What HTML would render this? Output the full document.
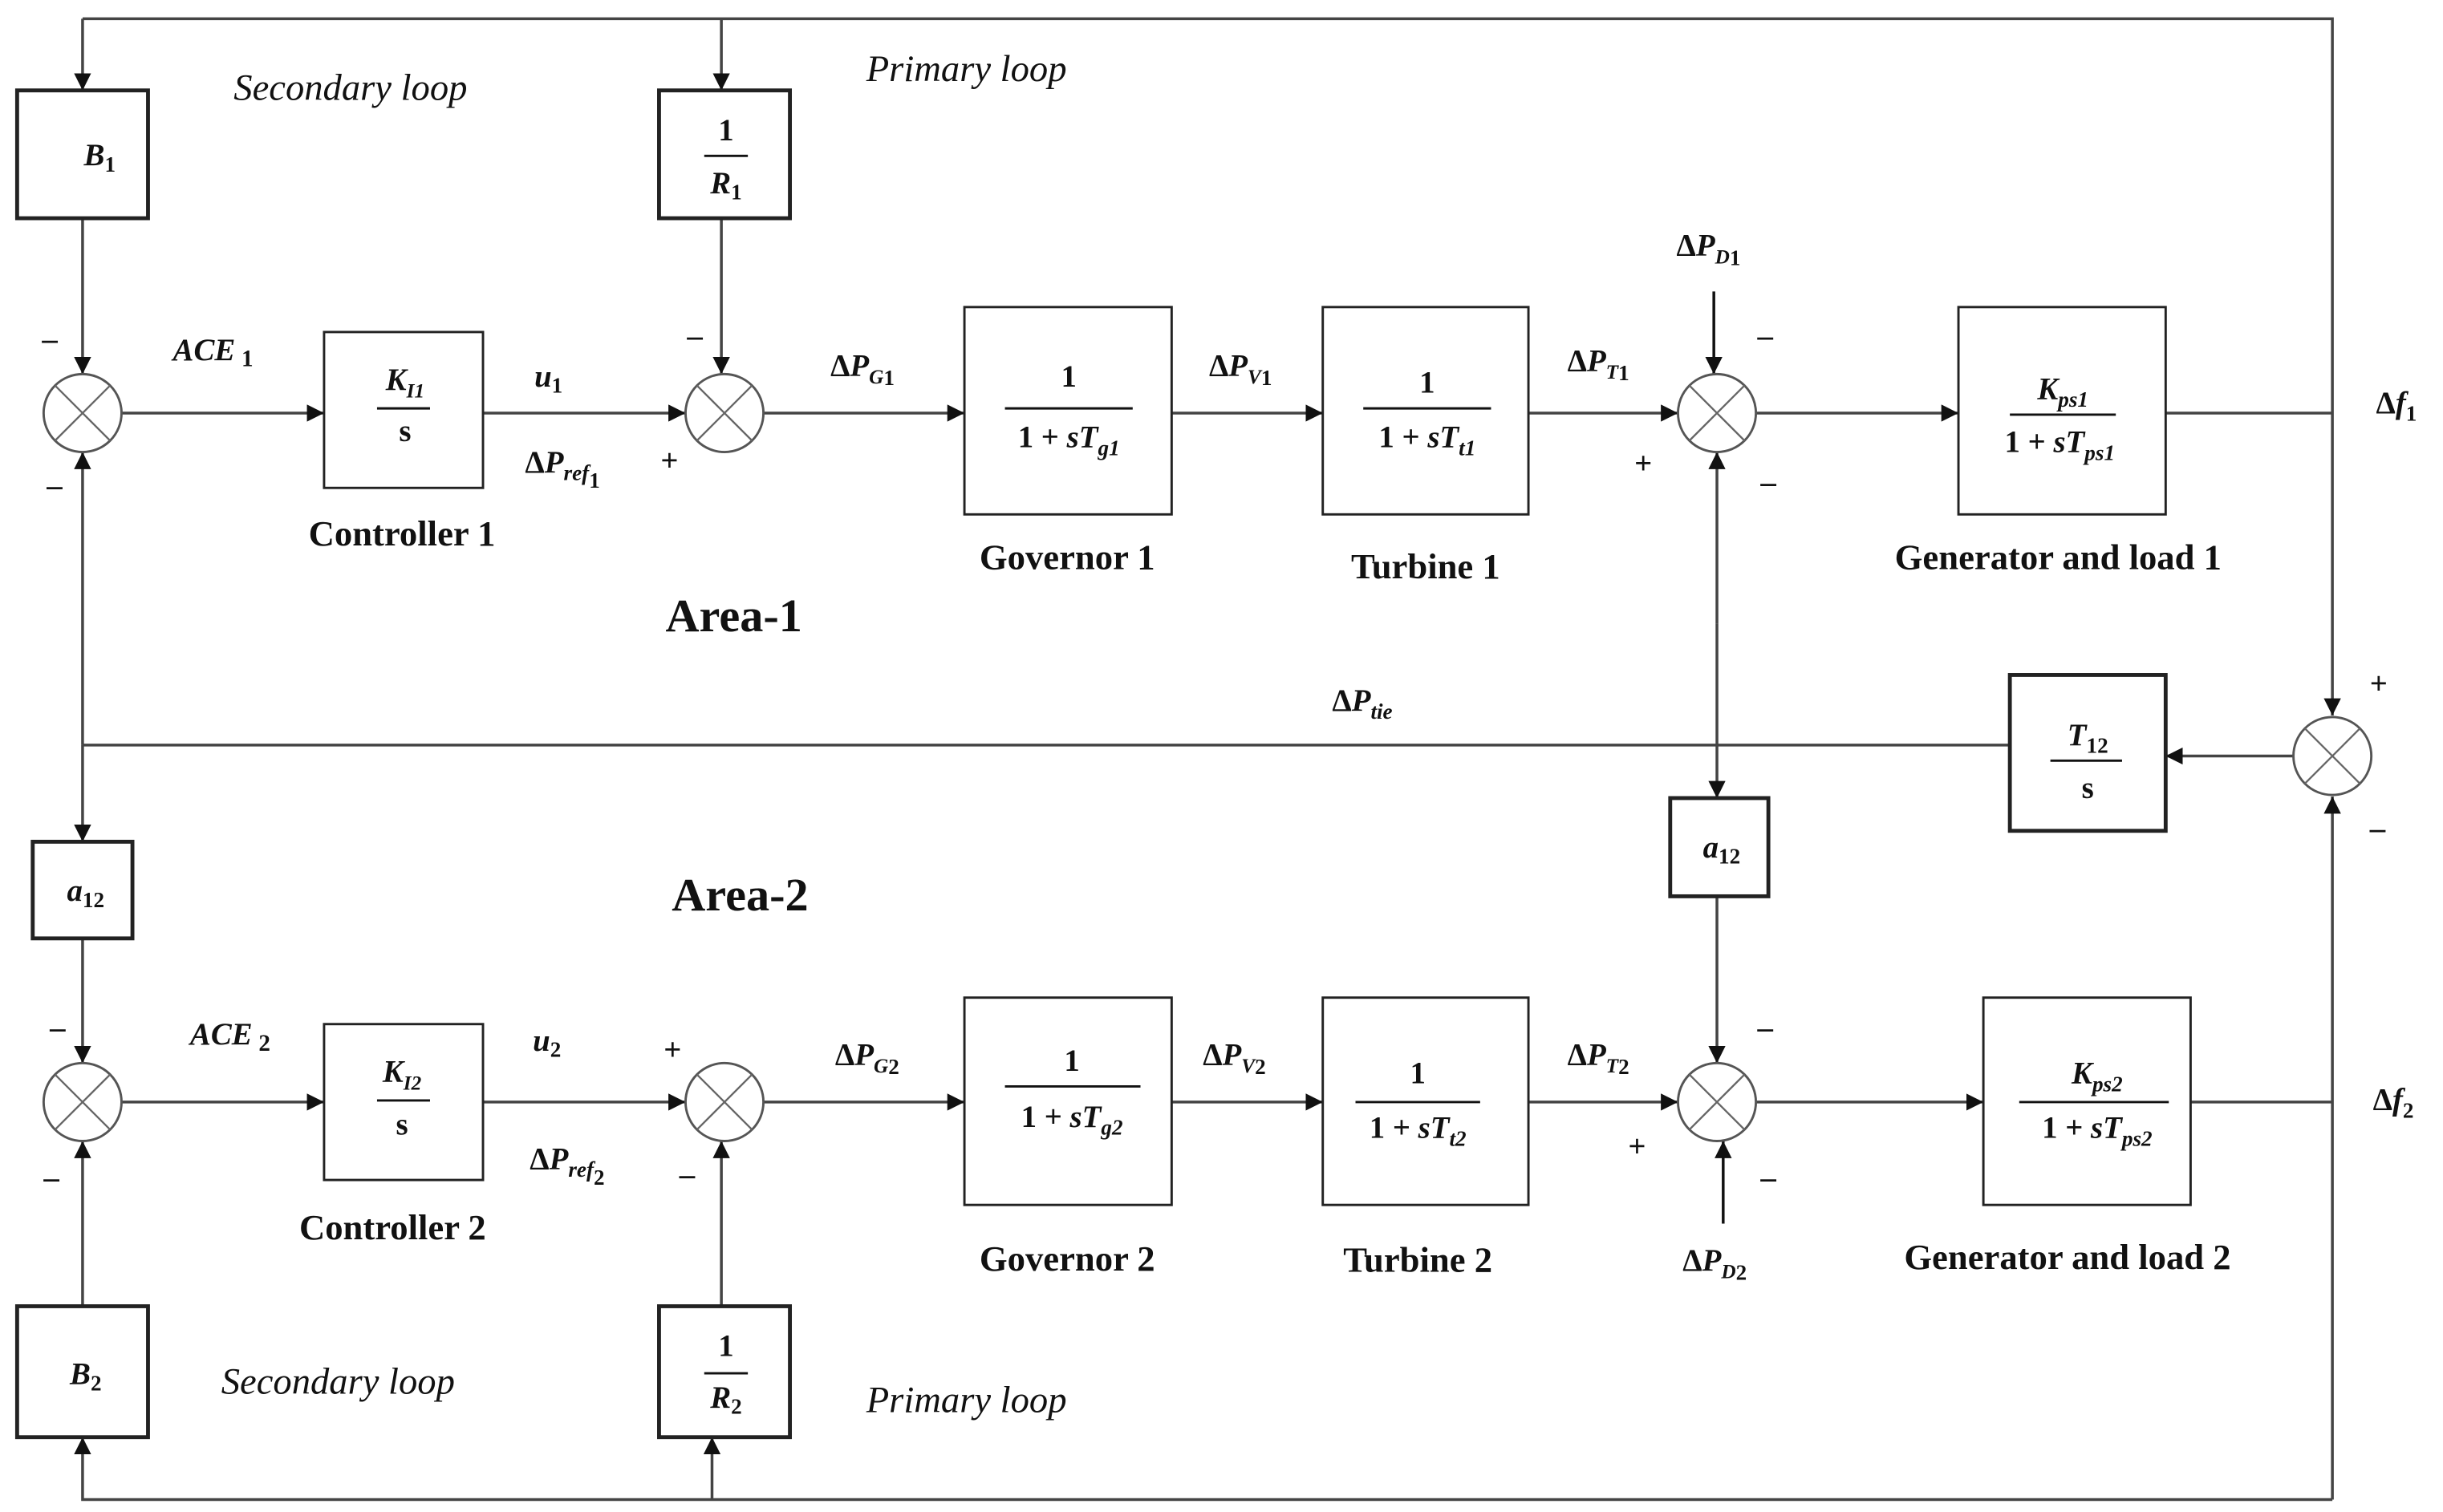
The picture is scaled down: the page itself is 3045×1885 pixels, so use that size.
<!DOCTYPE html>
<html><head><meta charset="utf-8"><style>
html,body{margin:0;padding:0;background:#fff}
svg{display:block}
text{font-family:"Liberation Serif",serif;fill:#111}
.b{font-weight:bold}
.i{font-style:italic;font-weight:bold}
.it{font-style:italic}
</style></head><body>
<svg width="3045" height="1885" viewBox="0 0 1568 970" preserveAspectRatio="none" xmlns="http://www.w3.org/2000/svg">
<defs>
<marker id="a" viewBox="0 0 10 10" refX="10" refY="5" markerWidth="11" markerHeight="11" markerUnits="userSpaceOnUse" orient="auto"><path d="M0,0 L10,5 L0,10 z" fill="#111"/></marker>
<g id="sum"><circle r="25" fill="#fff" stroke="#555" stroke-width="1.5"/><path d="M-17.7,-17.7 L17.7,17.7 M-17.7,17.7 L17.7,-17.7" stroke="#666" stroke-width="1.2"/></g>
</defs>
<g stroke="#444" stroke-width="1.8" fill="none">
<polyline points="53,12 1497,12 1497,459" marker-end="url(#a)"/>
<line x1="53" y1="12" x2="53" y2="58" marker-end="url(#a)"/>
<line x1="463" y1="12" x2="463" y2="58" marker-end="url(#a)"/>
<polyline points="1497,962 53,962 53,922" marker-end="url(#a)"/>
<line x1="1497" y1="962" x2="1497" y2="511" marker-end="url(#a)"/>
<line x1="457" y1="962" x2="457" y2="922" marker-end="url(#a)"/>
<line x1="53" y1="140" x2="53" y2="240" marker-end="url(#a)"/>
<line x1="78" y1="265" x2="208" y2="265" marker-end="url(#a)"/>
<line x1="310" y1="265" x2="440" y2="265" marker-end="url(#a)"/>
<line x1="463" y1="140" x2="463" y2="240" marker-end="url(#a)"/>
<line x1="490" y1="265" x2="619" y2="265" marker-end="url(#a)"/>
<line x1="752" y1="265" x2="849" y2="265" marker-end="url(#a)"/>
<line x1="981" y1="265" x2="1077" y2="265" marker-end="url(#a)"/>
<line x1="1100" y1="187" x2="1100" y2="240" marker-end="url(#a)" stroke="#111"/>
<line x1="1127" y1="265" x2="1257" y2="265" marker-end="url(#a)"/>
<line x1="1390" y1="265" x2="1497" y2="265"/>
<line x1="53" y1="478" x2="53" y2="290" marker-end="url(#a)"/>
<line x1="53" y1="478" x2="1290" y2="478"/>
<line x1="53" y1="478" x2="53" y2="540" marker-end="url(#a)"/>
<line x1="1472" y1="485" x2="1390" y2="485" marker-end="url(#a)"/>
<line x1="1102" y1="400" x2="1102" y2="290" marker-end="url(#a)"/>
<line x1="1102" y1="400" x2="1102" y2="512" marker-end="url(#a)"/>
<line x1="53" y1="602" x2="53" y2="682" marker-end="url(#a)"/>
<line x1="53" y1="838" x2="53" y2="732" marker-end="url(#a)"/>
<line x1="78" y1="707" x2="208" y2="707" marker-end="url(#a)"/>
<line x1="310" y1="707" x2="440" y2="707" marker-end="url(#a)"/>
<line x1="463" y1="838" x2="463" y2="732" marker-end="url(#a)"/>
<line x1="490" y1="707" x2="619" y2="707" marker-end="url(#a)"/>
<line x1="752" y1="707" x2="849" y2="707" marker-end="url(#a)"/>
<line x1="981" y1="707" x2="1077" y2="707" marker-end="url(#a)"/>
<line x1="1102" y1="575" x2="1102" y2="682" marker-end="url(#a)"/>
<line x1="1106" y1="785" x2="1106" y2="732" marker-end="url(#a)" stroke="#111"/>
<line x1="1127" y1="707" x2="1273" y2="707" marker-end="url(#a)"/>
<line x1="1406" y1="707" x2="1497" y2="707"/>
</g>
<g fill="#fff" stroke="#222">
<rect x="11" y="58" width="84" height="82" stroke-width="2.5"/>
<rect x="423" y="58" width="84" height="82" stroke-width="2.5"/>
<rect x="208" y="213" width="102" height="100" stroke-width="1.5"/>
<rect x="619" y="197" width="133" height="133" stroke-width="1.5"/>
<rect x="849" y="197" width="132" height="133" stroke-width="1.5"/>
<rect x="1257" y="197" width="133" height="133" stroke-width="1.5"/>
<rect x="1290" y="433" width="100" height="100" stroke-width="2.5"/>
<rect x="21" y="540" width="64" height="62" stroke-width="2.5"/>
<rect x="1072" y="512" width="63" height="63" stroke-width="2.5"/>
<rect x="208" y="657" width="102" height="100" stroke-width="1.5"/>
<rect x="619" y="640" width="133" height="133" stroke-width="1.5"/>
<rect x="849" y="640" width="132" height="133" stroke-width="1.5"/>
<rect x="1273" y="640" width="133" height="133" stroke-width="1.5"/>
<rect x="11" y="838" width="84" height="84" stroke-width="2.5"/>
<rect x="423" y="838" width="84" height="84" stroke-width="2.5"/>
</g>
<use href="#sum" x="53" y="265"/><use href="#sum" x="465" y="265"/><use href="#sum" x="1102" y="265"/>
<use href="#sum" x="1497" y="485"/>
<use href="#sum" x="53" y="707"/><use href="#sum" x="465" y="707"/><use href="#sum" x="1102" y="707"/>
<g stroke="#111" stroke-width="1.5">
<line x1="452" y1="100" x2="480" y2="100"/>
<line x1="242" y1="262" x2="276" y2="262"/>
<line x1="645" y1="262" x2="727" y2="262"/>
<line x1="875" y1="262" x2="957" y2="262"/>
<line x1="1290" y1="266" x2="1358" y2="266"/>
<line x1="1316" y1="488" x2="1362" y2="488"/>
<line x1="242" y1="706" x2="276" y2="706"/>
<line x1="645" y1="697" x2="732" y2="697"/>
<line x1="870" y1="707" x2="950" y2="707"/>
<line x1="1296" y1="707" x2="1392" y2="707"/>
<line x1="452" y1="881" x2="480" y2="881"/>
</g>
<g class="b" font-size="20" text-anchor="middle">
<text x="64" y="106" class="i">B<tspan font-size="14" dy="4" font-style="normal">1</tspan></text>
<text x="466" y="90">1</text>
<text x="466" y="124" class="i">R<tspan font-size="14" dy="4" font-style="normal">1</tspan></text>
<text x="260" y="250" class="i">K<tspan font-size="13" dy="5">I1</tspan></text>
<text x="260" y="283">s</text>
<text x="686" y="248">1</text>
<text x="686" y="287">1 + <tspan font-style="italic">sT</tspan><tspan font-size="14" dy="5" font-style="italic">g1</tspan></text>
<text x="916" y="252">1</text>
<text x="916" y="287">1 + <tspan font-style="italic">sT</tspan><tspan font-size="14" dy="5" font-style="italic">t1</tspan></text>
<text x="1324" y="256" class="i">K<tspan font-size="14" dy="5">ps1</tspan></text>
<text x="1322" y="290">1 + <tspan font-style="italic">sT</tspan><tspan font-size="14" dy="5" font-style="italic">ps1</tspan></text>
<text x="1340" y="478" class="i">T<tspan font-size="14" dy="5" font-style="normal">12</tspan></text>
<text x="1340" y="512">s</text>
<text x="55" y="578" class="i">a<tspan font-size="14" dy="4" font-style="normal">12</tspan></text>
<text x="1105" y="550" class="i">a<tspan font-size="14" dy="4" font-style="normal">12</tspan></text>
<text x="258" y="694" class="i">K<tspan font-size="13" dy="5">I2</tspan></text>
<text x="258" y="728">s</text>
<text x="688" y="687">1</text>
<text x="688" y="723">1 + <tspan font-style="italic">sT</tspan><tspan font-size="14" dy="5" font-style="italic">g2</tspan></text>
<text x="910" y="695">1</text>
<text x="910" y="730">1 + <tspan font-style="italic">sT</tspan><tspan font-size="14" dy="5" font-style="italic">t2</tspan></text>
<text x="1346" y="695" class="i">K<tspan font-size="14" dy="5">ps2</tspan></text>
<text x="1346" y="730">1 + <tspan font-style="italic">sT</tspan><tspan font-size="14" dy="5" font-style="italic">ps2</tspan></text>
<text x="55" y="888" class="i">B<tspan font-size="14" dy="4" font-style="normal">2</tspan></text>
<text x="466" y="870">1</text>
<text x="466" y="903" class="i">R<tspan font-size="14" dy="4" font-style="normal">2</tspan></text>
</g>
<g font-size="23" text-anchor="middle" font-weight="bold">
<text x="258" y="350">Controller 1</text>
<text x="685" y="365">Governor 1</text>
<text x="915" y="371">Turbine 1</text>
<text x="1321" y="365">Generator and load 1</text>
<text x="252" y="795">Controller 2</text>
<text x="685" y="815">Governor 2</text>
<text x="910" y="816">Turbine 2</text>
<text x="1327" y="814">Generator and load 2</text>
<text x="471" y="405" font-size="30">Area-1</text>
<text x="475" y="584" font-size="30">Area-2</text>
</g>
<g font-size="24" class="it">
<text x="150" y="64">Secondary loop</text>
<text x="556" y="52">Primary loop</text>
<text x="142" y="894">Secondary loop</text>
<text x="556" y="906">Primary loop</text>
</g>
<g font-size="20" font-weight="bold">
<text x="111" y="231" class="i">ACE<tspan font-size="15" dx="4" dy="4" font-style="normal">1</tspan></text>
<text x="343" y="248" class="i">u<tspan font-size="14" dy="4" font-style="normal">1</tspan></text>
<text x="337" y="303">Δ<tspan font-style="italic">P</tspan><tspan font-size="14" dy="5" font-style="italic">ref</tspan><tspan font-size="14" dy="5">1</tspan></text>
<text x="533" y="241">Δ<tspan font-style="italic">P</tspan><tspan font-size="13" dy="5" font-style="italic">G</tspan><tspan font-size="14" dy="1">1</tspan></text>
<text x="776" y="241">Δ<tspan font-style="italic">P</tspan><tspan font-size="13" dy="5" font-style="italic">V</tspan><tspan font-size="14" dy="1">1</tspan></text>
<text x="1006" y="238">Δ<tspan font-style="italic">P</tspan><tspan font-size="13" dy="5" font-style="italic">T</tspan><tspan font-size="14" dy="1">1</tspan></text>
<text x="1076" y="164">Δ<tspan font-style="italic">P</tspan><tspan font-size="13" dy="5" font-style="italic">D</tspan><tspan font-size="14" dy="1">1</tspan></text>
<text x="1525" y="265">Δ<tspan font-style="italic">f</tspan><tspan font-size="14" dy="5">1</tspan></text>
<text x="855" y="456">Δ<tspan font-style="italic">P</tspan><tspan font-size="14" dy="5" font-style="italic">tie</tspan></text>
<text x="122" y="670" class="i">ACE<tspan font-size="15" dx="4" dy="4" font-style="normal">2</tspan></text>
<text x="342" y="674" class="i">u<tspan font-size="14" dy="4" font-style="normal">2</tspan></text>
<text x="340" y="750">Δ<tspan font-style="italic">P</tspan><tspan font-size="14" dy="5" font-style="italic">ref</tspan><tspan font-size="14" dy="5">2</tspan></text>
<text x="536" y="683">Δ<tspan font-style="italic">P</tspan><tspan font-size="13" dy="5" font-style="italic">G</tspan><tspan font-size="14" dy="1">2</tspan></text>
<text x="772" y="683">Δ<tspan font-style="italic">P</tspan><tspan font-size="13" dy="5" font-style="italic">V</tspan><tspan font-size="14" dy="1">2</tspan></text>
<text x="1006" y="683">Δ<tspan font-style="italic">P</tspan><tspan font-size="13" dy="5" font-style="italic">T</tspan><tspan font-size="14" dy="1">2</tspan></text>
<text x="1080" y="815">Δ<tspan font-style="italic">P</tspan><tspan font-size="13" dy="5" font-style="italic">D</tspan><tspan font-size="14" dy="1">2</tspan></text>
<text x="1523" y="712">Δ<tspan font-style="italic">f</tspan><tspan font-size="14" dy="5">2</tspan></text>
</g>
<g font-size="20" font-weight="bold">
<text x="27" y="224">–</text><text x="30" y="318">–</text>
<text x="441" y="222">–</text><text x="424" y="302">+</text>
<text x="1128" y="222">–</text><text x="1049" y="304">+</text><text x="1130" y="316">–</text>
<text x="1521" y="445">+</text><text x="1521" y="538">–</text>
<text x="32" y="666">–</text><text x="28" y="762">–</text>
<text x="426" y="680">+</text><text x="436" y="760">–</text>
<text x="1128" y="666">–</text><text x="1045" y="742">+</text><text x="1130" y="762">–</text>
</g>
</svg>
</body></html>
